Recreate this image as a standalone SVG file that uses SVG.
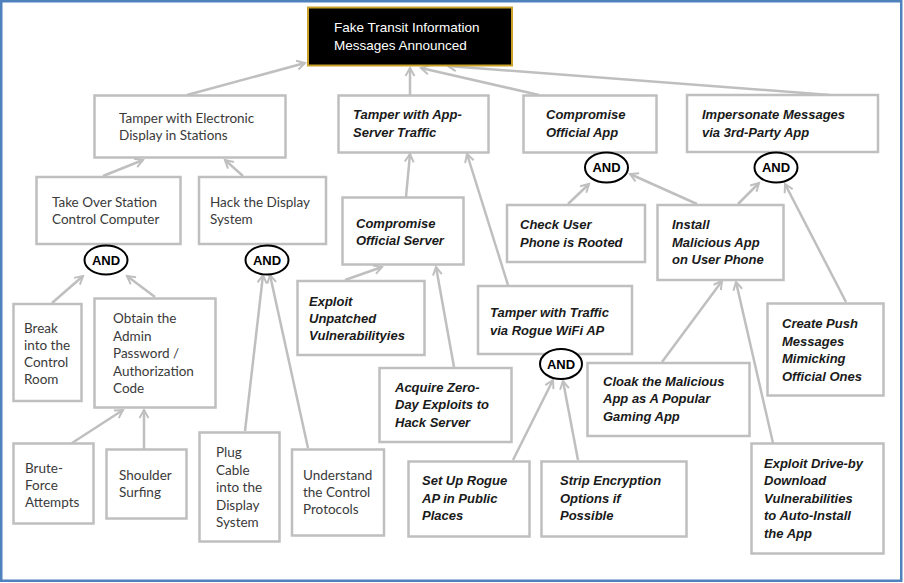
<svg xmlns="http://www.w3.org/2000/svg" width="904" height="583" viewBox="0 0 904 583">
<defs>
<marker id="ah" markerUnits="userSpaceOnUse" markerWidth="14" markerHeight="14" refX="9" refY="5" orient="auto" viewBox="0 0 14 10">
<path d="M1,0.5 L9,5 L1,9.5" fill="none" stroke="#bfbfbf" stroke-width="2"/>
</marker>
<style>
.box{fill:#fff;stroke:#bfbfbf;stroke-width:2.5}
.l{font-family:Lato,"Open Sans",sans-serif;font-size:13.5px;fill:#3a3a3a}
.r{font-family:"Liberation Sans",Arial,sans-serif;font-size:13px;font-weight:bold;font-style:italic;fill:#1a1a1a}
.and{fill:#fff;stroke:#000;stroke-width:2}
.andt{font-family:"Liberation Sans",Arial,sans-serif;font-size:13px;font-weight:bold;fill:#000;text-anchor:middle}
.c line{stroke:#bfbfbf;stroke-width:2.5;marker-end:url(#ah)}
</style>
</defs>
<rect x="0" y="0" width="904" height="583" fill="#fff"/>
<rect x="1.25" y="1.25" width="900" height="579.5" fill="none" stroke="#4f81bd" stroke-width="2.5"/>

<g class="c" id="connectors">
<line x1="187" y1="95" x2="305" y2="63"/>
<line x1="410" y1="95" x2="410" y2="68"/>
<line x1="539" y1="95" x2="421" y2="68"/>
<line x1="830" y1="95" x2="448" y2="66"/>
<line x1="103" y1="176" x2="143" y2="160"/>
<line x1="243" y1="176" x2="225" y2="160"/>
<line x1="52" y1="303" x2="83" y2="276"/>
<line x1="155" y1="297" x2="127" y2="276"/>
<line x1="72" y1="443" x2="123" y2="410"/>
<line x1="144" y1="449" x2="144" y2="410"/>
<line x1="245" y1="431" x2="263" y2="275"/>
<line x1="308" y1="448" x2="270" y2="275"/>
<line x1="345" y1="280" x2="382" y2="267"/>
<line x1="454" y1="367" x2="436" y2="267"/>
<line x1="406" y1="197" x2="410" y2="154"/>
<line x1="508" y1="285" x2="467" y2="154"/>
<line x1="513" y1="460" x2="553" y2="380"/>
<line x1="578" y1="460" x2="563" y2="381"/>
<line x1="568" y1="204" x2="589" y2="184"/>
<line x1="697" y1="204" x2="630" y2="174"/>
<line x1="738" y1="204" x2="759" y2="183"/>
<line x1="846" y1="302" x2="785" y2="184"/>
<line x1="662" y1="362" x2="722" y2="281"/>
<line x1="773" y1="443" x2="736" y2="282"/>
</g>

<g id="root">
<rect x="308" y="7.5" width="204" height="58" fill="#000" stroke="#c9a02a" stroke-width="2"/>
<text x="334" y="32" font-family="'Liberation Sans',Arial,sans-serif" font-size="13.5" fill="#fff">Fake Transit Information</text>
<text x="334" y="50" font-family="'Liberation Sans',Arial,sans-serif" font-size="13.5" fill="#fff">Messages Announced</text>
</g>

<g id="tamper-display">
<rect class="box" x="94.5" y="95.5" width="191" height="62"/>
<text class="l" x="119" y="123">Tamper with Electronic</text>
<text class="l" x="119" y="140">Display in Stations</text>
</g>
<g id="tamper-app-server">
<rect class="box" x="338.5" y="95.5" width="150" height="57"/>
<text class="r" x="353" y="119">Tamper with App-</text>
<text class="r" x="353" y="137">Server Traffic</text>
</g>
<g id="compromise-app">
<rect class="box" x="523.5" y="95.5" width="133" height="57"/>
<text class="r" x="546" y="119">Compromise</text>
<text class="r" x="546" y="137">Official App</text>
</g>
<g id="impersonate">
<rect class="box" x="687" y="95" width="191" height="57"/>
<text class="r" x="702" y="119">Impersonate Messages</text>
<text class="r" x="702" y="137">via 3rd-Party App</text>
</g>

<g id="take-over">
<rect class="box" x="36.5" y="177" width="144" height="67"/>
<text class="l" x="52" y="207">Take Over Station</text>
<text class="l" x="52" y="224">Control Computer</text>
</g>
<g id="and-take-over">
<ellipse class="and" cx="106" cy="260" rx="21.5" ry="14.5"/>
<text class="andt" x="106" y="264.5">AND</text>
</g>
<g id="hack-display">
<rect class="box" x="199" y="177" width="127" height="67"/>
<text class="l" x="210" y="207">Hack the Display</text>
<text class="l" x="210" y="224">System</text>
</g>
<g id="and-hack">
<ellipse class="and" cx="267" cy="260" rx="21.5" ry="14.5"/>
<text class="andt" x="267" y="264.5">AND</text>
</g>

<g id="compromise-server">
<rect class="box" x="342.5" y="197.5" width="121" height="67"/>
<text class="r" x="356" y="228">Compromise</text>
<text class="r" x="356" y="245">Official Server</text>
</g>
<g id="and-compromise-app">
<ellipse class="and" cx="606.5" cy="167.5" rx="21.5" ry="15"/>
<text class="andt" x="606.5" y="172">AND</text>
</g>
<g id="and-impersonate">
<ellipse class="and" cx="776" cy="167.5" rx="21.5" ry="15"/>
<text class="andt" x="776" y="172">AND</text>
</g>
<g id="check-rooted">
<rect class="box" x="507" y="205" width="138" height="57"/>
<text class="r" x="520" y="229">Check User</text>
<text class="r" x="520" y="247">Phone is Rooted</text>
</g>
<g id="install-malicious">
<rect class="box" x="657.5" y="205" width="126" height="75"/>
<text class="r" x="672" y="229">Install</text>
<text class="r" x="672" y="247">Malicious App</text>
<text class="r" x="672" y="264">on User Phone</text>
</g>

<g id="break-in">
<rect class="box" x="13.5" y="304" width="68" height="97"/>
<text class="l" x="24" y="333">Break</text>
<text class="l" x="24" y="350">into the</text>
<text class="l" x="24" y="367">Control</text>
<text class="l" x="24" y="384">Room</text>
</g>
<g id="obtain-password">
<rect class="box" x="94.5" y="298.5" width="121" height="109"/>
<text class="l" x="113" y="323">Obtain the</text>
<text class="l" x="113" y="341">Admin</text>
<text class="l" x="113" y="358">Password /</text>
<text class="l" x="113" y="376">Authorization</text>
<text class="l" x="113" y="393">Code</text>
</g>
<g id="exploit-unpatched">
<rect class="box" x="297.5" y="281" width="127" height="74"/>
<text class="r" x="309" y="306">Exploit</text>
<text class="r" x="309" y="323">Unpatched</text>
<text class="r" x="309" y="340">Vulnerabilityies</text>
</g>
<g id="tamper-rogue-wifi">
<rect class="box" x="478" y="286" width="154" height="68"/>
<text class="r" x="490" y="317">Tamper with Traffic</text>
<text class="r" x="490" y="335">via Rogue WiFi AP</text>
</g>
<g id="and-rogue-wifi">
<ellipse class="and" cx="561" cy="364" rx="21" ry="15"/>
<text class="andt" x="561" y="368.5">AND</text>
</g>
<g id="acquire-zero-day">
<rect class="box" x="379.5" y="368" width="132" height="74"/>
<text class="r" x="395" y="392">Acquire Zero-</text>
<text class="r" x="395" y="409">Day Exploits to</text>
<text class="r" x="395" y="427">Hack Server</text>
</g>
<g id="cloak-app">
<rect class="box" x="587.5" y="363" width="162" height="73"/>
<text class="r" x="603" y="386">Cloak the Malicious</text>
<text class="r" x="603" y="403">App as A Popular</text>
<text class="r" x="603" y="421">Gaming App</text>
</g>
<g id="create-push">
<rect class="box" x="767.5" y="303.5" width="116" height="92"/>
<text class="r" x="782" y="328">Create Push</text>
<text class="r" x="782" y="346">Messages</text>
<text class="r" x="782" y="363">Mimicking</text>
<text class="r" x="782" y="381">Official Ones</text>
</g>

<g id="brute-force">
<rect class="box" x="13.5" y="443.5" width="80" height="80"/>
<text class="l" x="25" y="473">Brute-</text>
<text class="l" x="25" y="490">Force</text>
<text class="l" x="25" y="507">Attempts</text>
</g>
<g id="shoulder-surfing">
<rect class="box" x="106.5" y="449.5" width="80" height="69"/>
<text class="l" x="119" y="480">Shoulder</text>
<text class="l" x="119" y="497">Surfing</text>
</g>
<g id="plug-cable">
<rect class="box" x="199.5" y="432.5" width="80" height="109"/>
<text class="l" x="216" y="457">Plug</text>
<text class="l" x="216" y="475">Cable</text>
<text class="l" x="216" y="492">into the</text>
<text class="l" x="216" y="510">Display</text>
<text class="l" x="216" y="527">System</text>
</g>
<g id="understand-protocols">
<rect class="box" x="292" y="449.5" width="92" height="86"/>
<text class="l" x="303" y="480">Understand</text>
<text class="l" x="303" y="497">the Control</text>
<text class="l" x="303" y="514">Protocols</text>
</g>
<g id="set-up-rogue-ap">
<rect class="box" x="408.5" y="461.5" width="121" height="75"/>
<text class="r" x="422" y="485">Set Up Rogue</text>
<text class="r" x="422" y="503">AP in Public</text>
<text class="r" x="422" y="520">Places</text>
</g>
<g id="strip-encryption">
<rect class="box" x="541.5" y="461.5" width="145" height="75"/>
<text class="r" x="560" y="485">Strip Encryption</text>
<text class="r" x="560" y="503">Options if</text>
<text class="r" x="560" y="520">Possible</text>
</g>
<g id="exploit-drive-by">
<rect class="box" x="751.5" y="443.5" width="132" height="110"/>
<text class="r" x="764" y="468">Exploit Drive-by</text>
<text class="r" x="764" y="485">Download</text>
<text class="r" x="764" y="503">Vulnerabilities</text>
<text class="r" x="764" y="520">to Auto-Install</text>
<text class="r" x="764" y="538">the App</text>
</g>
</svg>
